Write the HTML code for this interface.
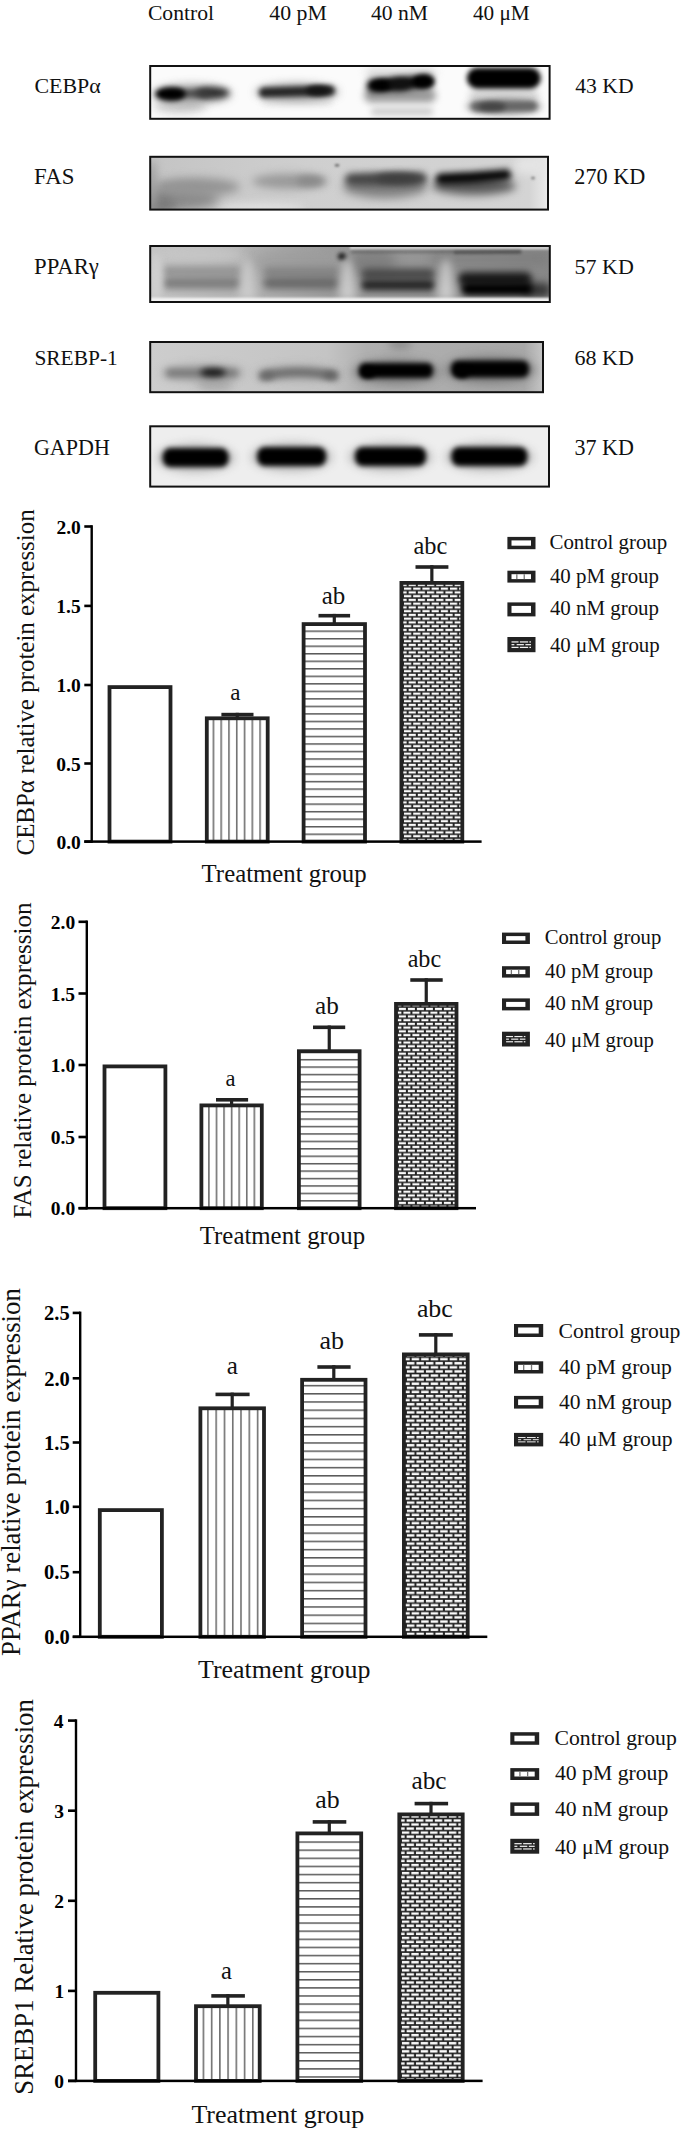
<!DOCTYPE html><html><head><meta charset="utf-8"><style>html,body{margin:0;padding:0;background:#fff;}svg{display:block;}text{font-family:"Liberation Serif",serif;}</style></head><body>
<svg width="685" height="2130" viewBox="0 0 685 2130">
<defs>
<pattern id="pv0" patternUnits="userSpaceOnUse" x="212.6" y="0" width="7.78" height="10"><rect width="7.78" height="10" fill="#fff"/><rect x="0" y="0" width="1.6" height="10" fill="#707070"/></pattern>
<pattern id="ph0_0" patternUnits="userSpaceOnUse" x="0" y="630.45" width="10" height="7.52"><rect width="10" height="7.52" fill="#fff"/><rect x="0" y="0" width="10" height="1.5" fill="#5a5a5a"/></pattern>
<pattern id="ph0_1" patternUnits="userSpaceOnUse" x="0" y="630.45" width="10" height="7.52"><rect width="10" height="7.52" fill="#fff"/><rect x="0" y="0" width="10" height="1.5" fill="#5a5a5a"/></pattern>
<pattern id="ph0_2" patternUnits="userSpaceOnUse" x="0" y="630.45" width="10" height="7.52"><rect width="10" height="7.52" fill="#fff"/><rect x="0" y="0" width="10" height="1.5" fill="#5a5a5a"/></pattern>
<pattern id="ph0_3" patternUnits="userSpaceOnUse" x="0" y="630.45" width="10" height="7.52"><rect width="10" height="7.52" fill="#fff"/><rect x="0" y="0" width="10" height="1.5" fill="#5a5a5a"/></pattern>
<pattern id="pb0" patternUnits="userSpaceOnUse" x="403.1" y="1.8" width="9.2" height="7.5"><rect width="9.2" height="7.5" fill="#222"/><rect x="0.9" y="0.75" width="7.2" height="2.25" fill="#fafafa"/><rect x="-3.7" y="4.5" width="7.2" height="2.25" fill="#fafafa"/><rect x="5.5" y="4.5" width="7.2" height="2.25" fill="#fafafa"/></pattern>
<pattern id="pv1" patternUnits="userSpaceOnUse" x="208.1" y="0" width="7.57" height="10"><rect width="7.57" height="10" fill="#fff"/><rect x="0" y="0" width="1.6" height="10" fill="#707070"/></pattern>
<pattern id="ph1_0" patternUnits="userSpaceOnUse" x="0" y="1140.65" width="10" height="7.43"><rect width="10" height="7.43" fill="#fff"/><rect x="0" y="0" width="10" height="1.5" fill="#5a5a5a"/></pattern>
<pattern id="ph1_1" patternUnits="userSpaceOnUse" x="0" y="1140.65" width="10" height="7.43"><rect width="10" height="7.43" fill="#fff"/><rect x="0" y="0" width="10" height="1.5" fill="#5a5a5a"/></pattern>
<pattern id="ph1_2" patternUnits="userSpaceOnUse" x="0" y="1140.65" width="10" height="7.43"><rect width="10" height="7.43" fill="#fff"/><rect x="0" y="0" width="10" height="1.5" fill="#5a5a5a"/></pattern>
<pattern id="ph1_3" patternUnits="userSpaceOnUse" x="0" y="1140.65" width="10" height="7.43"><rect width="10" height="7.43" fill="#fff"/><rect x="0" y="0" width="10" height="1.5" fill="#5a5a5a"/></pattern>
<pattern id="pb1" patternUnits="userSpaceOnUse" x="398" y="0" width="9" height="7.46"><rect width="9" height="7.46" fill="#222"/><rect x="0.9" y="0.75" width="7" height="2.24" fill="#fafafa"/><rect x="-3.6" y="4.48" width="7" height="2.24" fill="#fafafa"/><rect x="5.4" y="4.48" width="7" height="2.24" fill="#fafafa"/></pattern>
<pattern id="pv2" patternUnits="userSpaceOnUse" x="207.1" y="0" width="8.28" height="10"><rect width="8.28" height="10" fill="#fff"/><rect x="0" y="0" width="1.6" height="10" fill="#707070"/></pattern>
<pattern id="ph2_0" patternUnits="userSpaceOnUse" x="0" y="1540.65" width="10" height="8.2"><rect width="10" height="8.2" fill="#fff"/><rect x="0" y="0" width="10" height="1.5" fill="#5a5a5a"/></pattern>
<pattern id="ph2_1" patternUnits="userSpaceOnUse" x="0" y="1540.65" width="10" height="8.2"><rect width="10" height="8.2" fill="#fff"/><rect x="0" y="0" width="10" height="1.5" fill="#5a5a5a"/></pattern>
<pattern id="ph2_2" patternUnits="userSpaceOnUse" x="0" y="1540.65" width="10" height="8.2"><rect width="10" height="8.2" fill="#fff"/><rect x="0" y="0" width="10" height="1.5" fill="#5a5a5a"/></pattern>
<pattern id="ph2_3" patternUnits="userSpaceOnUse" x="0" y="1540.65" width="10" height="8.2"><rect width="10" height="8.2" fill="#fff"/><rect x="0" y="0" width="10" height="1.5" fill="#5a5a5a"/></pattern>
<pattern id="pb2" patternUnits="userSpaceOnUse" x="406" y="0" width="9.5" height="8.2"><rect width="9.5" height="8.2" fill="#222"/><rect x="0.9" y="0.82" width="7.5" height="2.46" fill="#fafafa"/><rect x="-3.85" y="4.92" width="7.5" height="2.46" fill="#fafafa"/><rect x="5.65" y="4.92" width="7.5" height="2.46" fill="#fafafa"/></pattern>
<pattern id="pv3" patternUnits="userSpaceOnUse" x="202.6" y="0" width="8.23" height="10"><rect width="8.23" height="10" fill="#fff"/><rect x="0" y="0" width="1.6" height="10" fill="#707070"/></pattern>
<pattern id="ph3_0" patternUnits="userSpaceOnUse" x="0" y="2011.45" width="10" height="8.1"><rect width="10" height="8.1" fill="#fff"/><rect x="0" y="0" width="10" height="1.5" fill="#5a5a5a"/></pattern>
<pattern id="ph3_1" patternUnits="userSpaceOnUse" x="0" y="2011.45" width="10" height="8.1"><rect width="10" height="8.1" fill="#fff"/><rect x="0" y="0" width="10" height="1.5" fill="#5a5a5a"/></pattern>
<pattern id="ph3_2" patternUnits="userSpaceOnUse" x="0" y="2011.45" width="10" height="8.1"><rect width="10" height="8.1" fill="#fff"/><rect x="0" y="0" width="10" height="1.5" fill="#5a5a5a"/></pattern>
<pattern id="ph3_3" patternUnits="userSpaceOnUse" x="0" y="2011.45" width="10" height="8.1"><rect width="10" height="8.1" fill="#fff"/><rect x="0" y="0" width="10" height="1.5" fill="#5a5a5a"/></pattern>
<pattern id="pb3" patternUnits="userSpaceOnUse" x="401" y="0" width="9.4" height="8.1"><rect width="9.4" height="8.1" fill="#222"/><rect x="0.9" y="0.81" width="7.4" height="2.43" fill="#fafafa"/><rect x="-3.8" y="4.86" width="7.4" height="2.43" fill="#fafafa"/><rect x="5.6" y="4.86" width="7.4" height="2.43" fill="#fafafa"/></pattern>
<pattern id="lbrick" patternUnits="userSpaceOnUse" x="0" y="0" width="5" height="3"><rect width="5" height="3" fill="#333"/><rect x="0.5" y="0.5" width="3.6" height="1" fill="#eee"/></pattern>
<filter id="b1" x="-30%" y="-100%" width="160%" height="300%"><feGaussianBlur stdDeviation="2.2"/></filter>
<filter id="b2" x="-30%" y="-100%" width="160%" height="300%"><feGaussianBlur stdDeviation="3.5"/></filter>
<filter id="b3" x="-30%" y="-100%" width="160%" height="300%"><feGaussianBlur stdDeviation="6"/></filter>
<filter id="b4" x="-50%" y="-200%" width="200%" height="500%"><feGaussianBlur stdDeviation="10"/></filter>
</defs><defs><filter id="g0" filterUnits="userSpaceOnUse" x="140" y="55" width="420" height="445" color-interpolation-filters="sRGB"><feGaussianBlur stdDeviation="4.00"/></filter><filter id="g1" filterUnits="userSpaceOnUse" x="140" y="55" width="420" height="445" color-interpolation-filters="sRGB"><feGaussianBlur stdDeviation="4.50"/></filter><filter id="g2" filterUnits="userSpaceOnUse" x="140" y="55" width="420" height="445" color-interpolation-filters="sRGB"><feGaussianBlur stdDeviation="3.00"/></filter><filter id="g3" filterUnits="userSpaceOnUse" x="140" y="55" width="420" height="445" color-interpolation-filters="sRGB"><feGaussianBlur stdDeviation="2.80"/></filter><filter id="g4" filterUnits="userSpaceOnUse" x="140" y="55" width="420" height="445" color-interpolation-filters="sRGB"><feGaussianBlur stdDeviation="3.50"/></filter><filter id="g5" filterUnits="userSpaceOnUse" x="140" y="55" width="420" height="445" color-interpolation-filters="sRGB"><feGaussianBlur stdDeviation="6.00"/></filter><filter id="g6" filterUnits="userSpaceOnUse" x="140" y="55" width="420" height="445" color-interpolation-filters="sRGB"><feGaussianBlur stdDeviation="5.00"/></filter><filter id="g7" filterUnits="userSpaceOnUse" x="140" y="55" width="420" height="445" color-interpolation-filters="sRGB"><feGaussianBlur stdDeviation="1.00"/></filter><filter id="g8" filterUnits="userSpaceOnUse" x="140" y="55" width="420" height="445" color-interpolation-filters="sRGB"><feGaussianBlur stdDeviation="1.50"/></filter><filter id="g9" filterUnits="userSpaceOnUse" x="140" y="55" width="420" height="445" color-interpolation-filters="sRGB"><feGaussianBlur stdDeviation="2.20"/></filter><filter id="g10" filterUnits="userSpaceOnUse" x="140" y="55" width="420" height="445" color-interpolation-filters="sRGB"><feGaussianBlur stdDeviation="3.20"/></filter><filter id="g11" filterUnits="userSpaceOnUse" x="140" y="55" width="420" height="445" color-interpolation-filters="sRGB"><feGaussianBlur stdDeviation="2.40"/></filter><filter id="g12" filterUnits="userSpaceOnUse" x="140" y="55" width="420" height="445" color-interpolation-filters="sRGB"><feGaussianBlur stdDeviation="2.60"/></filter></defs>
<rect width="685" height="2130" fill="#fff"/>
<defs><clipPath id="clip0"><rect x="150.2" y="66" width="399.4" height="52.8"/></clipPath><clipPath id="clip1"><rect x="150.2" y="156.8" width="397.8" height="52.8"/></clipPath><clipPath id="clip2"><rect x="150.2" y="246" width="399.6" height="56"/></clipPath><clipPath id="clip3"><rect x="150.2" y="342" width="392.8" height="50.2"/></clipPath><clipPath id="clip4"><rect x="150.2" y="426.3" width="398.8" height="60.3"/></clipPath></defs>
<g clip-path="url(#clip0)">
<rect x="149.2" y="65" width="401.4" height="54.8" fill="#fbfbfb" opacity="1"/>
<ellipse cx="180" cy="106" rx="26" ry="7" fill="#c4c4c4" opacity="0.9" filter="url(#g0)"/>
<ellipse cx="192" cy="94" rx="40" ry="10" fill="#999" opacity="0.8" filter="url(#g1)"/>
<ellipse cx="212" cy="92.8" rx="17" ry="5.5" fill="#2c2c2c" opacity="1" filter="url(#g2)"/>
<rect x="174" y="90" width="36" height="7" rx="3.5" fill="#3a3a3a" opacity="1" filter="url(#g2)"/>
<ellipse cx="170.5" cy="94" rx="15" ry="7" fill="#000" opacity="1" filter="url(#g3)"/>
<rect x="262" y="97" width="70" height="8" rx="4" fill="#dadada" opacity="0.9" filter="url(#g4)"/>
<ellipse cx="297" cy="92" rx="42" ry="9" fill="#888" opacity="0.7" filter="url(#g0)"/>
<path d="M 264 92.6 L 330 90.6" fill="none" stroke="#262626" stroke-width="10" stroke-linecap="round" opacity="1" filter="url(#g3)"/>
<ellipse cx="318" cy="90.8" rx="12" ry="5" fill="#151515" opacity="1" filter="url(#g3)"/>
<rect x="366" y="68.5" width="70" height="9" rx="4.5" fill="#d4d4d4" opacity="0.9" filter="url(#g0)"/>
<rect x="364" y="88.5" width="72" height="14" rx="7" fill="#9a9a9a" opacity="1" filter="url(#g4)"/>
<rect x="371" y="107.9" width="62" height="7" rx="3.5" fill="#c8c8c8" opacity="1" filter="url(#g2)"/>
<path d="M 373 85.5 L 400 83.8 L 427 81.5" fill="none" stroke="#080808" stroke-width="13" stroke-linecap="round" opacity="1" filter="url(#g2)"/>
<ellipse cx="381.5" cy="85.3" rx="11" ry="6" fill="#000" opacity="1" filter="url(#g3)"/>
<ellipse cx="423" cy="81.5" rx="11" ry="6.5" fill="#000" opacity="1" filter="url(#g3)"/>
<ellipse cx="400" cy="84" rx="12" ry="6" fill="#111" opacity="1" filter="url(#g2)"/>
<rect x="469" y="91" width="70" height="10" rx="5" fill="#d0d0d0" opacity="1" filter="url(#g4)"/>
<ellipse cx="504" cy="106.5" rx="38" ry="8" fill="#888" opacity="0.8" filter="url(#g4)"/>
<path d="M 476 106.5 L 532 106" fill="none" stroke="#666" stroke-width="10" stroke-linecap="round" opacity="1" filter="url(#g3)"/>
<ellipse cx="492" cy="106.8" rx="14" ry="4.5" fill="#444" opacity="1" filter="url(#g3)"/>
<rect x="466.8" y="67.7" width="74" height="21" rx="10.5" fill="#000" opacity="1" filter="url(#g3)"/>
</g>
<linearGradient id="gfas" x1="0" y1="0" x2="1" y2="0"><stop offset="0" stop-color="#c4c4c4"/><stop offset="0.4" stop-color="#cfcfcf"/><stop offset="0.95" stop-color="#d4d4d4"/><stop offset="1" stop-color="#ececec"/></linearGradient>
<g clip-path="url(#clip1)">
<rect x="149.2" y="155.8" width="399.8" height="54.8" fill="url(#gfas)" opacity="1"/>
<ellipse cx="260" cy="208" rx="45" ry="5" fill="#e2e2e2" opacity="1" filter="url(#g0)"/>
<ellipse cx="175" cy="198" rx="44" ry="13" fill="#8a8a8a" opacity="1" filter="url(#g5)"/>
<ellipse cx="160" cy="204" rx="16" ry="8" fill="#7a7a7a" opacity="1" filter="url(#g6)"/>
<ellipse cx="198" cy="187" rx="42" ry="9" fill="#949494" opacity="1" filter="url(#g6)"/>
<ellipse cx="152" cy="185" rx="5" ry="25" fill="#a0a0a0" opacity="1" filter="url(#g0)"/>
<ellipse cx="290" cy="181.3" rx="38" ry="7.5" fill="#999" opacity="1" filter="url(#g0)"/>
<ellipse cx="310" cy="181" rx="14" ry="5" fill="#888" opacity="1" filter="url(#g4)"/>
<ellipse cx="337" cy="165.2" rx="2.5" ry="1.5" fill="#777" opacity="1" filter="url(#g7)"/>
<ellipse cx="385" cy="187" rx="42" ry="11" fill="#808080" opacity="1" filter="url(#g6)"/>
<path d="M 351 179.5 L 421 178.5" fill="none" stroke="#444" stroke-width="12" stroke-linecap="round" opacity="1" filter="url(#g4)"/>
<ellipse cx="398" cy="178.6" rx="22" ry="5" fill="#3e3e3e" opacity="1" filter="url(#g4)"/>
<ellipse cx="474" cy="186" rx="42" ry="9" fill="#5a5a5a" opacity="1" filter="url(#g1)"/>
<path d="M 441 179 L 472 177.5 L 506 174.7" fill="none" stroke="#050505" stroke-width="11" stroke-linecap="round" opacity="1" filter="url(#g2)"/>
<ellipse cx="530" cy="165" rx="16" ry="10" fill="#e4e4e4" opacity="1" filter="url(#g0)"/>
<ellipse cx="533" cy="178" rx="2" ry="1.5" fill="#888" opacity="1" filter="url(#g7)"/>
</g>
<linearGradient id="gpp" x1="0" y1="0" x2="1" y2="0"><stop offset="0" stop-color="#c4c4c4"/><stop offset="0.22" stop-color="#b4b4b4"/><stop offset="0.45" stop-color="#9c9c9c"/><stop offset="0.7" stop-color="#949494"/><stop offset="1" stop-color="#888"/></linearGradient>
<g clip-path="url(#clip2)">
<rect x="149.2" y="245" width="401.6" height="58" fill="url(#gpp)" opacity="1"/>
<ellipse cx="200" cy="255" rx="45" ry="10" fill="#c8c8c8" opacity="0.8" filter="url(#g5)"/>
<ellipse cx="290" cy="262" rx="40" ry="12" fill="#999" opacity="0.6" filter="url(#g5)"/>
<ellipse cx="372" cy="262" rx="25" ry="14" fill="#777" opacity="0.7" filter="url(#g5)"/>
<rect x="430" y="251" width="120" height="14" rx="7" fill="#777" opacity="0.6" filter="url(#g5)"/>
<rect x="350" y="246" width="201" height="3.5" fill="#d4d4d4" opacity="1" filter="url(#g7)"/>
<path d="M 352 252 L 520 251.5" fill="none" stroke="#555" stroke-width="2.5" stroke-linecap="round" opacity="0.6" filter="url(#g8)"/>
<path d="M 455 252.5 L 520 252" fill="none" stroke="#333" stroke-width="2.5" stroke-linecap="round" opacity="0.6" filter="url(#g8)"/>
<ellipse cx="342" cy="256.4" rx="4" ry="3.5" fill="#111" opacity="1" filter="url(#g9)"/>
<rect x="162" y="266" width="80" height="11" rx="5.5" fill="#969696" opacity="1" filter="url(#g4)"/>
<rect x="162" y="277" width="80" height="12" rx="6" fill="#7e7e7e" opacity="1" filter="url(#g4)"/>
<rect x="263" y="267" width="76" height="10" rx="5" fill="#848484" opacity="1" filter="url(#g4)"/>
<rect x="263" y="277" width="76" height="12" rx="6" fill="#6a6a6a" opacity="1" filter="url(#g4)"/>
<rect x="361" y="268.5" width="74" height="11" rx="5.5" fill="#484848" opacity="1" filter="url(#g4)"/>
<rect x="361" y="279.5" width="74" height="11" rx="5.5" fill="#262626" opacity="1" filter="url(#g10)"/>
<rect x="525" y="283" width="26" height="14" rx="7" fill="#333" opacity="1" filter="url(#g0)"/>
<rect x="458" y="272" width="74" height="14" rx="7" fill="#1a1a1a" opacity="1" filter="url(#g4)"/>
<rect x="461" y="282.5" width="72" height="13" rx="6.5" fill="#000" opacity="1" filter="url(#g2)"/>
<path d="M 244.5 260 L 250.5 260 L 256.5 300 L 238.5 300 Z" fill="#cacaca" filter="url(#g0)"/>
<path d="M 344.5 260 L 350.5 260 L 356.5 300 L 338.5 300 Z" fill="#cacaca" filter="url(#g0)"/>
<path d="M 443 260 L 449 260 L 455 300 L 437 300 Z" fill="#cacaca" filter="url(#g0)"/>
<rect x="150" y="253" width="12" height="50" rx="25" fill="#d0d0d0" opacity="1" filter="url(#g4)"/>
<rect x="149.2" y="297.8" width="401.6" height="6" fill="#f2f2f2" opacity="1" filter="url(#g7)"/>
</g>
<linearGradient id="gsr" x1="0" y1="0" x2="1" y2="0"><stop offset="0" stop-color="#cdcdcd"/><stop offset="0.45" stop-color="#c4c4c4"/><stop offset="0.55" stop-color="#b0b0b0"/><stop offset="0.95" stop-color="#a8a8a8"/><stop offset="1" stop-color="#c6c6c6"/></linearGradient>
<g clip-path="url(#clip3)">
<rect x="149.2" y="341" width="394.8" height="52.2" fill="url(#gsr)" opacity="1"/>
<ellipse cx="215" cy="384" rx="18" ry="7" fill="#aaa" opacity="1" filter="url(#g0)"/>
<ellipse cx="203" cy="373" rx="42" ry="9" fill="#a0a0a0" opacity="0.7" filter="url(#g1)"/>
<path d="M 170 373 L 234 373" fill="none" stroke="#7a7a7a" stroke-width="8.5" stroke-linecap="round" opacity="1" filter="url(#g10)"/>
<ellipse cx="213" cy="372.5" rx="13" ry="4.2" fill="#151515" opacity="1" filter="url(#g2)"/>
<ellipse cx="298" cy="373" rx="42" ry="8" fill="#a0a0a0" opacity="0.6" filter="url(#g1)"/>
<path d="M 263 376 Q 298 368.5 334 376" fill="none" stroke="#6e6e6e" stroke-width="9" stroke-linecap="round" opacity="1" filter="url(#g2)"/>
<ellipse cx="268" cy="375.5" rx="6" ry="3.5" fill="#666" opacity="1" filter="url(#g2)"/>
<ellipse cx="330" cy="375" rx="7" ry="3.5" fill="#606060" opacity="1" filter="url(#g2)"/>
<ellipse cx="400" cy="344" rx="12" ry="5" fill="#8a8a8a" opacity="1" filter="url(#g0)"/>
<ellipse cx="396" cy="372" rx="44" ry="13" fill="#777" opacity="0.8" filter="url(#g6)"/>
<ellipse cx="490" cy="370" rx="46" ry="14" fill="#777" opacity="0.8" filter="url(#g6)"/>
<rect x="359" y="363" width="74" height="15" rx="6" fill="#000" opacity="1" filter="url(#g11)"/>
<ellipse cx="368" cy="372.5" rx="7" ry="5.5" fill="#000" opacity="1" filter="url(#g12)"/>
<rect x="451" y="360.5" width="78" height="17" rx="7" fill="#000" opacity="1" filter="url(#g11)"/>
<ellipse cx="462" cy="372" rx="7" ry="6" fill="#000" opacity="1" filter="url(#g12)"/>
</g>
<g clip-path="url(#clip4)">
<rect x="149.2" y="425.3" width="400.8" height="62.3" fill="#eeeeee" opacity="1"/>
<ellipse cx="195.6" cy="458.1" rx="39" ry="14" fill="#888" opacity="0.55" filter="url(#g6)"/>
<rect x="162.6" y="448.1" width="66" height="19" rx="8" fill="#000" opacity="1" filter="url(#g3)"/>
<ellipse cx="291.6" cy="457" rx="40.5" ry="14" fill="#888" opacity="0.55" filter="url(#g6)"/>
<rect x="257.1" y="447" width="69" height="19" rx="8" fill="#000" opacity="1" filter="url(#g3)"/>
<ellipse cx="390.5" cy="457" rx="41.5" ry="14" fill="#888" opacity="0.55" filter="url(#g6)"/>
<rect x="355" y="447" width="71" height="19" rx="8" fill="#000" opacity="1" filter="url(#g3)"/>
<ellipse cx="489.4" cy="457" rx="44" ry="14" fill="#888" opacity="0.55" filter="url(#g6)"/>
<rect x="451.4" y="447" width="76" height="19" rx="8" fill="#000" opacity="1" filter="url(#g3)"/>
</g>
<rect x="150.2" y="66" width="399.4" height="52.8" fill="none" stroke="#111" stroke-width="2"/>
<rect x="150.2" y="156.8" width="397.8" height="52.8" fill="none" stroke="#111" stroke-width="2"/>
<rect x="150.2" y="246" width="399.6" height="56" fill="none" stroke="#111" stroke-width="2"/>
<rect x="150.2" y="342" width="392.8" height="50.2" fill="none" stroke="#111" stroke-width="2"/>
<rect x="150.2" y="426.3" width="398.8" height="60.3" fill="none" stroke="#111" stroke-width="2"/>
<text x="147.93" y="20" font-size="21.67" fill="#111">Control</text>
<text x="269.26" y="20" font-size="21.81" fill="#111">40 pM</text>
<text x="370.97" y="20" font-size="21.62" fill="#111">40 nM</text>
<text x="472.98" y="20" font-size="21.22" fill="#111">40 μM</text>
<text x="34.42" y="93" font-size="21.93" fill="#111">CEBPα</text>
<text x="34.11" y="183.6" font-size="22.87" fill="#111">FAS</text>
<text x="34.12" y="273.7" font-size="22.71" fill="#111">PPARγ</text>
<text x="34.41" y="364.5" font-size="21.43" fill="#111">SREBP-1</text>
<text x="33.92" y="454.5" font-size="22.04" fill="#111">GAPDH</text>
<text x="575.27" y="93" font-size="21.63" fill="#111">43 KD</text>
<text x="574.3" y="183.6" font-size="22.19" fill="#111">270 KD</text>
<text x="574.58" y="273.6" font-size="22.01" fill="#111">57 KD</text>
<text x="574.61" y="364.8" font-size="22" fill="#111">68 KD</text>
<text x="574.5" y="454.8" font-size="22.04" fill="#111">37 KD</text>
<rect x="109.5" y="687.1" width="61" height="154.5" fill="#fff" stroke="#222" stroke-width="3.8"/>
<rect x="221.4" y="712.8" width="32.1" height="3.6" fill="#222"/>
<rect x="235.65" y="712.8" width="3.2" height="4.6" fill="#222"/>
<rect x="206.8" y="718.3" width="60.9" height="123.3" fill="url(#pv0)" stroke="#222" stroke-width="3.8"/>
<rect x="318.5" y="613.9" width="31.6" height="3.6" fill="#222"/>
<rect x="332.7" y="613.9" width="3.2" height="9.3" fill="#222"/>
<rect x="303.6" y="624.1" width="61.4" height="217.5" fill="url(#ph0_2)" stroke="#222" stroke-width="3.8"/>
<rect x="415.5" y="565.2" width="32.9" height="3.6" fill="#222"/>
<rect x="430.25" y="565.2" width="3.2" height="16.8" fill="#222"/>
<rect x="401.4" y="582.9" width="60.9" height="258.7" fill="url(#pb0)" stroke="#222" stroke-width="3.8"/>
<rect x="90.5" y="525.2" width="2.4" height="317.6" fill="#000"/>
<rect x="84.3" y="840.35" width="397.3" height="2.5" fill="#000"/>
<rect x="84.3" y="525.2" width="7.4" height="2.6" fill="#000"/>
<text x="56.41" y="533.5" font-size="19.5" font-weight="bold" fill="#000">2.0</text>
<rect x="84.3" y="604.6" width="7.4" height="2.6" fill="#000"/>
<text x="56.31" y="612.9" font-size="19.5" font-weight="bold" fill="#000">1.5</text>
<rect x="84.3" y="683.7" width="7.4" height="2.6" fill="#000"/>
<text x="56.41" y="692" font-size="19.5" font-weight="bold" fill="#000">1.0</text>
<rect x="84.3" y="762.2" width="7.4" height="2.6" fill="#000"/>
<text x="56.31" y="770.5" font-size="19.5" font-weight="bold" fill="#000">0.5</text>
<rect x="84.3" y="840.3" width="7.4" height="2.6" fill="#000"/>
<text x="56.41" y="848.6" font-size="19.5" font-weight="bold" fill="#000">0.0</text>
<text x="230.29" y="700.3" font-size="23.04" fill="#111">a</text>
<text x="321.73" y="604.1" font-size="24.94" fill="#111">ab</text>
<text x="413.55" y="554.4" font-size="24.38" fill="#111">abc</text>
<text transform="translate(34.1 854.5) rotate(-90)" x="-1" y="0" font-size="24.95" fill="#111">CEBPα relative protein expression</text>
<text x="201.6" y="881.5" font-size="24.81" fill="#111">Treatment group</text>
<rect x="507.4" y="536.9" width="28.1" height="12.3" fill="#222"/>
<rect x="511.5" y="540.4" width="19.5" height="5.3" fill="#fff"/>
<text x="549.46" y="548.9" font-size="20.9" fill="#111">Control group</text>
<rect x="507.4" y="570.7" width="28.1" height="11.9" fill="#222"/>
<rect x="511.5" y="574.2" width="19.5" height="4.9" fill="#fff"/>
<rect x="516.18" y="574.2" width="1.3" height="4.9" fill="#777"/>
<rect x="523.59" y="574.2" width="1.3" height="4.9" fill="#777"/>
<text x="549.88" y="582.6" font-size="20.9" fill="#111">40 pM group</text>
<rect x="507.4" y="602.4" width="28.1" height="14" fill="#222"/>
<rect x="511.5" y="605.9" width="19.5" height="7" fill="#fff"/>
<text x="549.88" y="615.3" font-size="20.9" fill="#111">40 nM group</text>
<rect x="507.4" y="637" width="28.1" height="15.2" fill="#222"/>
<rect x="511.5" y="641.32" width="7.04" height="1.23" fill="#f2f2f2"/>
<rect x="519.87" y="641.32" width="8.28" height="1.23" fill="#f2f2f2"/>
<rect x="529.38" y="641.32" width="1.62" height="1.23" fill="#f2f2f2"/>
<rect x="511.5" y="644.05" width="2.85" height="1.23" fill="#f2f2f2"/>
<rect x="516.64" y="644.05" width="7.23" height="1.23" fill="#f2f2f2"/>
<rect x="525.39" y="644.05" width="5.61" height="1.23" fill="#f2f2f2"/>
<rect x="511.5" y="646.79" width="7.04" height="1.23" fill="#f2f2f2"/>
<rect x="519.87" y="646.79" width="8.28" height="1.23" fill="#f2f2f2"/>
<rect x="529.38" y="646.79" width="1.62" height="1.23" fill="#f2f2f2"/>
<text x="549.88" y="652" font-size="20.9" fill="#111">40 μM group</text>
<rect x="104.5" y="1066.4" width="60.9" height="141.8" fill="#fff" stroke="#222" stroke-width="3.8"/>
<rect x="216" y="1098" width="32.1" height="3.6" fill="#222"/>
<rect x="230" y="1098" width="3.2" height="6.5" fill="#222"/>
<rect x="201.4" y="1105.4" width="60.4" height="102.8" fill="url(#pv1)" stroke="#222" stroke-width="3.8"/>
<rect x="313" y="1025.5" width="32.2" height="3.6" fill="#222"/>
<rect x="327.65" y="1025.5" width="3.2" height="24.8" fill="#222"/>
<rect x="298.9" y="1051.2" width="60.7" height="157" fill="url(#ph1_2)" stroke="#222" stroke-width="3.8"/>
<rect x="410.3" y="978.2" width="32.4" height="3.6" fill="#222"/>
<rect x="424.65" y="978.2" width="3.2" height="24.8" fill="#222"/>
<rect x="396" y="1003.9" width="60.5" height="204.3" fill="url(#pb1)" stroke="#222" stroke-width="3.8"/>
<rect x="85.6" y="920.5" width="2.4" height="288.9" fill="#000"/>
<rect x="78.5" y="1206.95" width="397.5" height="2.5" fill="#000"/>
<rect x="78.5" y="920.5" width="8.3" height="2.6" fill="#000"/>
<text x="50.81" y="928.8" font-size="19.5" font-weight="bold" fill="#000">2.0</text>
<rect x="78.5" y="992.2" width="8.3" height="2.6" fill="#000"/>
<text x="50.71" y="1000.5" font-size="19.5" font-weight="bold" fill="#000">1.5</text>
<rect x="78.5" y="1063.7" width="8.3" height="2.6" fill="#000"/>
<text x="50.81" y="1072" font-size="19.5" font-weight="bold" fill="#000">1.0</text>
<rect x="78.5" y="1135.7" width="8.3" height="2.6" fill="#000"/>
<text x="50.71" y="1144" font-size="19.5" font-weight="bold" fill="#000">0.5</text>
<rect x="78.5" y="1206.9" width="8.3" height="2.6" fill="#000"/>
<text x="50.81" y="1215.2" font-size="19.5" font-weight="bold" fill="#000">0.0</text>
<text x="225.41" y="1086" font-size="22.53" fill="#111">a</text>
<text x="315.02" y="1014.3" font-size="25.17" fill="#111">ab</text>
<text x="407.65" y="967" font-size="24.15" fill="#111">abc</text>
<text transform="translate(31 1217.7) rotate(-90)" x="-0.75" y="0" font-size="25.05" fill="#111">FAS relative protein expression</text>
<text x="199.8" y="1244" font-size="24.84" fill="#111">Treatment group</text>
<rect x="502" y="932.6" width="27.9" height="11.4" fill="#222"/>
<rect x="506.1" y="936.1" width="19.3" height="4.4" fill="#fff"/>
<text x="544.67" y="944.3" font-size="20.7" fill="#111">Control group</text>
<rect x="502" y="966.2" width="27.9" height="11.4" fill="#222"/>
<rect x="506.1" y="969.7" width="19.3" height="4.4" fill="#fff"/>
<rect x="510.73" y="969.7" width="1.3" height="4.4" fill="#777"/>
<rect x="518.07" y="969.7" width="1.3" height="4.4" fill="#777"/>
<text x="545.09" y="977.6" font-size="20.7" fill="#111">40 pM group</text>
<rect x="502" y="998.4" width="27.9" height="12" fill="#222"/>
<rect x="506.1" y="1001.9" width="19.3" height="5" fill="#fff"/>
<text x="545.09" y="1010.4" font-size="20.7" fill="#111">40 nM group</text>
<rect x="502" y="1031.7" width="27.9" height="14.8" fill="#222"/>
<rect x="506.1" y="1035.98" width="6.97" height="1.17" fill="#f2f2f2"/>
<rect x="514.38" y="1035.98" width="8.19" height="1.17" fill="#f2f2f2"/>
<rect x="523.8" y="1035.98" width="1.6" height="1.17" fill="#f2f2f2"/>
<rect x="506.1" y="1038.58" width="2.82" height="1.17" fill="#f2f2f2"/>
<rect x="511.18" y="1038.58" width="7.16" height="1.17" fill="#f2f2f2"/>
<rect x="519.85" y="1038.58" width="5.55" height="1.17" fill="#f2f2f2"/>
<rect x="506.1" y="1041.18" width="6.97" height="1.17" fill="#f2f2f2"/>
<rect x="514.38" y="1041.18" width="8.19" height="1.17" fill="#f2f2f2"/>
<rect x="523.8" y="1041.18" width="1.6" height="1.17" fill="#f2f2f2"/>
<text x="545.09" y="1046.5" font-size="20.7" fill="#111">40 μM group</text>
<rect x="99.8" y="1510.1" width="62.1" height="126.7" fill="#fff" stroke="#222" stroke-width="3.8"/>
<rect x="215.5" y="1392.6" width="34.1" height="3.6" fill="#222"/>
<rect x="230.6" y="1392.6" width="3.2" height="14.8" fill="#222"/>
<rect x="200.4" y="1408.3" width="63.6" height="228.5" fill="url(#pv2)" stroke="#222" stroke-width="3.8"/>
<rect x="317.4" y="1365.2" width="33.2" height="3.6" fill="#222"/>
<rect x="332.2" y="1365.2" width="3.2" height="13.7" fill="#222"/>
<rect x="302.1" y="1379.8" width="63.4" height="257" fill="url(#ph2_2)" stroke="#222" stroke-width="3.8"/>
<rect x="418.9" y="1333.1" width="33.9" height="3.6" fill="#222"/>
<rect x="434.2" y="1333.1" width="3.2" height="20.4" fill="#222"/>
<rect x="403.9" y="1354.4" width="63.8" height="282.4" fill="url(#pb2)" stroke="#222" stroke-width="3.8"/>
<rect x="79" y="1311.6" width="2.4" height="326.4" fill="#000"/>
<rect x="72.7" y="1635.55" width="414.6" height="2.5" fill="#000"/>
<rect x="72.7" y="1311.6" width="7.5" height="2.6" fill="#000"/>
<text x="44.09" y="1320.1" font-size="20.5" font-weight="bold" fill="#000">2.5</text>
<rect x="72.7" y="1377" width="7.5" height="2.6" fill="#000"/>
<text x="44.2" y="1385.5" font-size="20.5" font-weight="bold" fill="#000">2.0</text>
<rect x="72.7" y="1441.2" width="7.5" height="2.6" fill="#000"/>
<text x="44.09" y="1449.7" font-size="20.5" font-weight="bold" fill="#000">1.5</text>
<rect x="72.7" y="1505.5" width="7.5" height="2.6" fill="#000"/>
<text x="44.2" y="1514" font-size="20.5" font-weight="bold" fill="#000">1.0</text>
<rect x="72.7" y="1570.9" width="7.5" height="2.6" fill="#000"/>
<text x="44.09" y="1579.4" font-size="20.5" font-weight="bold" fill="#000">0.5</text>
<rect x="72.7" y="1635.5" width="7.5" height="2.6" fill="#000"/>
<text x="44.2" y="1644" font-size="20.5" font-weight="bold" fill="#000">0.0</text>
<text x="226.72" y="1373.9" font-size="25.06" fill="#111">a</text>
<text x="319.39" y="1349.4" font-size="25.98" fill="#111">ab</text>
<text x="416.89" y="1316.7" font-size="25.89" fill="#111">abc</text>
<text transform="translate(20.3 1655.1) rotate(-90)" x="-0.81" y="0" font-size="26.83" fill="#111">PPARγ relative protein expression</text>
<text x="197.98" y="1678.4" font-size="25.91" fill="#111">Treatment group</text>
<rect x="514" y="1324" width="29.2" height="13" fill="#222"/>
<rect x="518.1" y="1327.5" width="20.6" height="6" fill="#fff"/>
<text x="558.54" y="1337.8" font-size="21.6" fill="#111">Control group</text>
<rect x="514" y="1361.3" width="29.2" height="12.2" fill="#222"/>
<rect x="518.1" y="1364.8" width="20.6" height="5.2" fill="#fff"/>
<rect x="523.04" y="1364.8" width="1.3" height="5.2" fill="#777"/>
<rect x="530.87" y="1364.8" width="1.3" height="5.2" fill="#777"/>
<text x="558.97" y="1373.5" font-size="21.6" fill="#111">40 pM group</text>
<rect x="514" y="1395.9" width="29.2" height="12.7" fill="#222"/>
<rect x="518.1" y="1399.4" width="20.6" height="5.7" fill="#fff"/>
<text x="558.97" y="1408.6" font-size="21.6" fill="#111">40 nM group</text>
<rect x="514" y="1432.9" width="29.2" height="13.5" fill="#222"/>
<rect x="518.1" y="1437.05" width="7.44" height="0.97" fill="#f2f2f2"/>
<rect x="526.94" y="1437.05" width="8.74" height="0.97" fill="#f2f2f2"/>
<rect x="536.99" y="1437.05" width="1.71" height="0.97" fill="#f2f2f2"/>
<rect x="518.1" y="1439.22" width="3.01" height="0.97" fill="#f2f2f2"/>
<rect x="523.53" y="1439.22" width="7.64" height="0.97" fill="#f2f2f2"/>
<rect x="532.77" y="1439.22" width="5.93" height="0.97" fill="#f2f2f2"/>
<rect x="518.1" y="1441.38" width="7.44" height="0.97" fill="#f2f2f2"/>
<rect x="526.94" y="1441.38" width="8.74" height="0.97" fill="#f2f2f2"/>
<rect x="536.99" y="1441.38" width="1.71" height="0.97" fill="#f2f2f2"/>
<text x="558.97" y="1446.4" font-size="21.6" fill="#111">40 μM group</text>
<rect x="95.2" y="1992.8" width="63.2" height="88.1" fill="#fff" stroke="#222" stroke-width="3.8"/>
<rect x="211.3" y="1994.1" width="33.6" height="3.6" fill="#222"/>
<rect x="226.25" y="1994.1" width="3.2" height="11.2" fill="#222"/>
<rect x="196" y="2006.2" width="63.7" height="74.7" fill="url(#pv3)" stroke="#222" stroke-width="3.8"/>
<rect x="312.7" y="1820.1" width="33.6" height="3.6" fill="#222"/>
<rect x="327.7" y="1820.1" width="3.2" height="12.4" fill="#222"/>
<rect x="297.4" y="1833.4" width="63.8" height="247.5" fill="url(#ph3_2)" stroke="#222" stroke-width="3.8"/>
<rect x="414.6" y="1801.8" width="33.5" height="3.6" fill="#222"/>
<rect x="429.4" y="1801.8" width="3.2" height="11.7" fill="#222"/>
<rect x="399.3" y="1814.4" width="63.4" height="266.5" fill="url(#pb3)" stroke="#222" stroke-width="3.8"/>
<rect x="74.8" y="1719.3" width="2.4" height="362.8" fill="#000"/>
<rect x="68" y="2079.65" width="414.6" height="2.5" fill="#000"/>
<rect x="68" y="1719.3" width="8" height="2.6" fill="#000"/>
<text x="53.84" y="1727.6" font-size="19.5" font-weight="bold" fill="#000">4</text>
<rect x="68" y="1809.4" width="8" height="2.6" fill="#000"/>
<text x="54.13" y="1817.7" font-size="19.5" font-weight="bold" fill="#000">3</text>
<rect x="68" y="1899.5" width="8" height="2.6" fill="#000"/>
<text x="54.33" y="1907.8" font-size="19.5" font-weight="bold" fill="#000">2</text>
<rect x="68" y="1989.6" width="8" height="2.6" fill="#000"/>
<text x="54.43" y="1997.9" font-size="19.5" font-weight="bold" fill="#000">1</text>
<rect x="68" y="2079.6" width="8" height="2.6" fill="#000"/>
<text x="54.23" y="2087.9" font-size="19.5" font-weight="bold" fill="#000">0</text>
<text x="221.04" y="1979.2" font-size="24.56" fill="#111">a</text>
<text x="315.19" y="1808.2" font-size="25.86" fill="#111">ab</text>
<text x="411.52" y="1789.4" font-size="25.28" fill="#111">abc</text>
<text transform="translate(32.8 2093) rotate(-90)" x="-1.74" y="0" font-size="26.84" fill="#111">SREBP1 Relative protein expression</text>
<text x="191.38" y="2123.3" font-size="25.99" fill="#111">Treatment group</text>
<rect x="510.3" y="1732.2" width="28.9" height="12.6" fill="#222"/>
<rect x="514.4" y="1735.7" width="20.3" height="5.6" fill="#fff"/>
<text x="554.53" y="1744.8" font-size="21.7" fill="#111">Control group</text>
<rect x="510.3" y="1768.1" width="28.9" height="11.9" fill="#222"/>
<rect x="514.4" y="1771.6" width="20.3" height="4.9" fill="#fff"/>
<rect x="519.27" y="1771.6" width="1.3" height="4.9" fill="#777"/>
<rect x="526.99" y="1771.6" width="1.3" height="4.9" fill="#777"/>
<text x="554.97" y="1780" font-size="21.7" fill="#111">40 pM group</text>
<rect x="510.3" y="1802.4" width="28.9" height="13.5" fill="#222"/>
<rect x="514.4" y="1805.9" width="20.3" height="6.5" fill="#fff"/>
<text x="554.97" y="1815.9" font-size="21.7" fill="#111">40 nM group</text>
<rect x="510.3" y="1838.8" width="28.9" height="14.9" fill="#222"/>
<rect x="514.4" y="1843.09" width="7.33" height="1.19" fill="#f2f2f2"/>
<rect x="523.11" y="1843.09" width="8.62" height="1.19" fill="#f2f2f2"/>
<rect x="533.02" y="1843.09" width="1.68" height="1.19" fill="#f2f2f2"/>
<rect x="514.4" y="1845.72" width="2.97" height="1.19" fill="#f2f2f2"/>
<rect x="519.75" y="1845.72" width="7.53" height="1.19" fill="#f2f2f2"/>
<rect x="528.86" y="1845.72" width="5.84" height="1.19" fill="#f2f2f2"/>
<rect x="514.4" y="1848.36" width="7.33" height="1.19" fill="#f2f2f2"/>
<rect x="523.11" y="1848.36" width="8.62" height="1.19" fill="#f2f2f2"/>
<rect x="533.02" y="1848.36" width="1.68" height="1.19" fill="#f2f2f2"/>
<text x="554.97" y="1853.7" font-size="21.7" fill="#111">40 μM group</text>
</svg></body></html>
